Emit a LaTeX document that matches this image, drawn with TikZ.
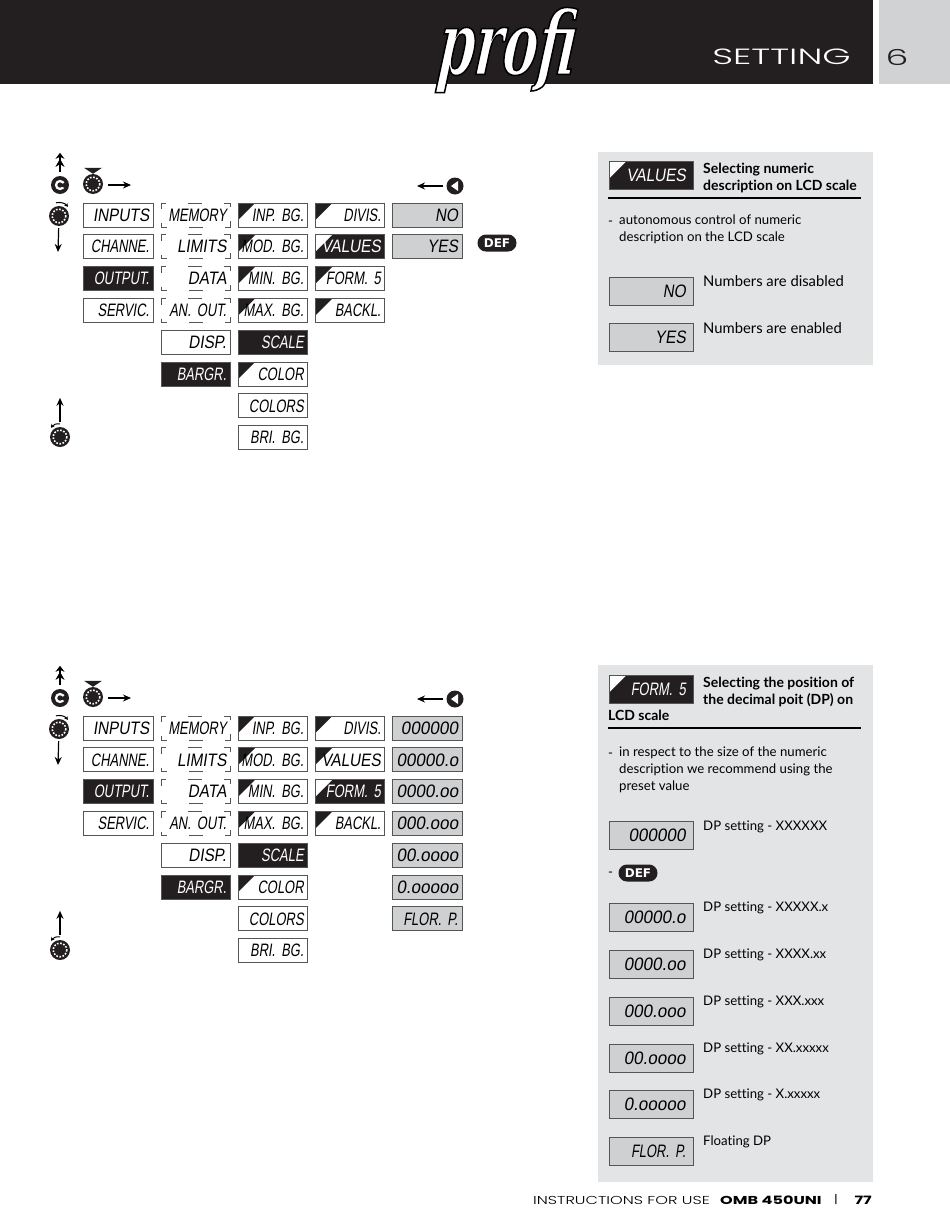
\documentclass[tikz,border=0pt]{standalone}
\usepackage{fontspec}
\usepackage{xcolor}
\usetikzlibrary{positioning,arrows.meta}
\setmainfont[Ligatures=NoCommon]{Lato}
\newfontfamily\lcdface[FakeSlant=0.15,FakeStretch=0.85]{Liberation Sans}
\newfontfamily\tightface[FakeSlant=0.15,FakeStretch=0.72,WordSpace=0.4]{Liberation Sans}
\newfontfamily\digface[FakeSlant=0.15,FakeStretch=0.95]{Liberation Sans}
\newfontfamily\headface[FakeStretch=1.65]{Poppins Light}
\newfontfamily\wideface[FakeStretch=1.4]{Poppins Light}
\newfontfamily\widebold[FakeStretch=1.4]{Poppins}
\newfontfamily\logoface[FakeStretch=0.6,FakeSlant=0.1]{DejaVu Serif}
\newfontfamily\pillface{DejaVu Sans}
\definecolor{bandblack}{HTML}{231F20}
\definecolor{tabgray}{HTML}{D1D2D4}
\definecolor{panelgray}{HTML}{E3E4E6}
\definecolor{lcdgray}{HTML}{CFD0D2}
\definecolor{edgegray}{HTML}{555555}
\newcommand{\tl}[1]{\llap{\tightface\fontsize{18}{18}\selectfont #1}}

% menu tree: prefix, y offset, style of VALUES, style of FORM
\newcommand{\menutree}[4]{
\begin{scope}[shift={(0,#2)}]
\node[lcd] (#1inputs) at (118.5,215) {INPUTS};
\node[lcd, below=of #1inputs] (#1channe) {\tl{CHANNE.}};
\node[lcdon, below=of #1channe] (#1output) {\tl{OUTPUT.}};
\node[lcd, below=of #1output] (#1servic) {\tl{SERVIC.}};
\node[lcdopen, right=of #1inputs] (#1memory) {\tl{MEMORY}};
\node[lcdopen, below=of #1memory] (#1limits) {LIMITS};
\node[lcdopen, below=of #1limits] (#1data) {DATA};
\node[lcdopen, below=of #1data] (#1anout) {\tl{AN. OUT.}};
\node[lcd, below=of #1anout] (#1disp) {DISP.};
\node[lcdon, below=of #1disp] (#1bargr) {\tl{BARGR.}};
\node[lcdtag, right=of #1memory] (#1inpbg) {\tl{INP. BG.}};
\node[lcdtag, below=of #1inpbg] (#1modbg) {\tl{MOD. BG.}};
\node[lcdtag, below=of #1modbg] (#1minbg) {\tl{MIN. BG.}};
\node[lcdtag, below=of #1minbg] (#1maxbg) {\tl{MAX. BG.}};
\node[lcdon, below=of #1maxbg] (#1scale) {\tl{SCALE}};
\node[lcdtag, below=of #1scale] (#1color) {\tl{COLOR}};
\node[lcd, below=of #1color] (#1colors) {\tl{COLORS}};
\node[lcd, below=of #1colors] (#1bribg) {\tl{BRI. BG.}};
\node[lcdtag, right=of #1inpbg] (#1divis) {\tl{DIVIS.}};
\node[#3, below=of #1divis] (#1values) {VALUES};
\node[#4, below=of #1values] (#1form) {\tl{FORM. 5}};
\node[lcdtag, below=of #1form] (#1backl) {\tl{BACKL.}};
% buttons
\node[cbutton] (#1esc) at (60,185) {};
\node[knob] (#1enter) at (93,184) {};
\node[knob] (#1down) at (59,216) {};
\node[knob] (#1up) at (60,437) {};
\node[lbutton] (#1left) at (455,186) {};
\coordinate[above=23pt of #1esc] (#1escend);
\coordinate (#1enterend) at (131,185);
\coordinate (#1downend) at (58,252);
\coordinate[above=29pt of #1up] (#1upend);
\coordinate (#1leftend) at (417,186);
\draw[arr, shorten <=4pt, -{Stealth[length=8pt,width=9pt]Stealth[length=6pt,width=9pt]}] (#1esc) -- (#1escend);
\draw[arr, shorten <=5pt] (#1enter.east |- #1enterend) -- (#1enterend);
\draw[arr, shorten <=2pt] (#1down) -- (#1downend);
\draw[arr, shorten <=5pt] (#1up) -- (#1upend);
\draw[arr, shorten <=3pt] (#1left) -- (#1leftend);
\fill[bandblack] ([shift={(-9,-6)}]#1enter.north) -- ++(18,0) -- ++(-9,6) -- cycle;
\draw[-{Stealth[length=3.5pt,width=4pt]}, line width=1pt] ([shift={(-3,-3)}]#1down.north) to[bend left=30] ([shift={(9,1)}]#1down.north);
\draw[-{Stealth[length=3.5pt,width=4pt]}, line width=1pt] ([shift={(0,-3)}]#1up.north) to[bend right=30] ([shift={(-9,1)}]#1up.north);
\end{scope}
}

\begin{document}
\begin{tikzpicture}[
  x=1pt, y=-1pt,
  node distance=7.8pt,
  lcd/.style={draw=edgegray, line width=.9pt, minimum width=69.4pt,
              minimum height=24pt, text width=61.5pt, inner xsep=3.5pt,
              inner ysep=0pt, outer sep=0pt, align=right,
              font=\lcdface\fontsize{18}{18}\selectfont},
  lcdon/.style={lcd, fill=bandblack, text=white},
  lcdopen/.style={lcd, dash pattern=on 6pt off 22pt on 14pt off 22pt on 11pt off 14pt on 11pt off 22pt on 14pt off 22pt on 11pt off 14pt on 5pt},
  lcdgrey/.style={lcd, fill=lcdgray},
  lcddigit/.style={lcdgrey, font=\digface\fontsize{18}{18}\selectfont},
  lcdtag/.style={lcd, path picture={\fill[bandblack]
     (path picture bounding box.north west) -- ++(17,0) -- ++(-17,17) -- cycle;}},
  lcdtagon/.style={lcdon, path picture={\fill[white]
     (path picture bounding box.north west) -- ++(17,0) -- ++(-17,17) -- cycle;}},
  sidesize/.style={minimum width=84pt, minimum height=28pt, text width=69.5pt, inner xsep=7pt},
  panel/.style={fill=panelgray, anchor=north west, inner sep=0pt, outer sep=0pt},
  sidetext/.style={anchor=north west, inner sep=0pt, align=left,
                   font=\fontsize{13.2}{17}\selectfont},
  sidebig/.style={sidetext, font=\fontsize{14.8}{17}\selectfont},
  sidehead/.style={sidetext, font=\bfseries\fontsize{14}{17}\selectfont},
  knob/.style={circle, fill=bandblack, minimum size=20pt, inner sep=0pt, path picture={
     \draw[white, line width=1.6pt, dash pattern=on 1.6pt off 1.6pt]
     (path picture bounding box.center) circle (6.8);}},
  cbutton/.style={circle, fill=bandblack, minimum size=18pt, inner sep=0pt, path picture={
     \draw[white, line width=2.2pt, dash pattern=on 20.1pt off 5pt, dash phase=22.6pt]
     (path picture bounding box.center) circle (4);}},
  lbutton/.style={circle, fill=bandblack, minimum size=17pt, inner sep=0pt, path picture={
     \fill[white] ([shift={(3,-5)}]path picture bounding box.center) -- ++(0,10) -- ++(-7,-5) -- cycle;}},
  defpill/.style={rounded corners=8.4pt, fill=bandblack, text=white, minimum width=39pt,
     minimum height=17pt, inner sep=0pt, font=\pillface\bfseries\fontsize{12}{12}\selectfont},
  arr/.style={-{Stealth[length=8pt,width=7pt]}, line width=1.2pt}
]
\useasboundingbox (0,0) rectangle (950,1231);
% page head
\node[panel, fill=bandblack, minimum width=873pt, minimum height=84pt] (band) at (0,0) {};
\node[panel, fill=tabgray, minimum width=71pt, minimum height=84pt] (tab) at (879,0) {};
\node[anchor=east, inner sep=0pt, text=white, font=\headface\fontsize{22}{22}\selectfont] (setting) at (851,57) {SETTING};
\node[inner sep=0pt, text=bandblack, font=\headface\fontsize{22}{22}\selectfont] (chapter) at (897,57) {6};
\node[inner sep=0pt, text=white, font=\logoface\bfseries\itshape\fontsize{88}{88}\selectfont] (logo) at (505,50)
  {\special{pdf:code 2 Tr 1.5 w 0 0 0 RG}profi\special{pdf:code 0 Tr 1 w}};

\menutree{a}{0}{lcdtagon}{lcdtag}
\menutree{b}{513}{lcdtag}{lcdtagon}

% upper column and panel
\node[lcdgrey, right=of adivis] (ano) {NO};
\node[lcdgrey, below=of ano] (ayes) {YES};
\node[defpill] (adef) at (497,243) {DEF};
\node[panel, minimum width=275pt, minimum height=213pt] (apanel) at (598,152) {};
\node[lcdtagon, sidesize] (ahead) at (651,175.5) {VALUES};
\node[sidehead] (atitle) at (703,163) {Selecting numeric\\description on LCD scale};
\coordinate (arulestart) at (608,198);
\coordinate (aruleend) at (861,198);
\draw[line width=1.2pt] (arulestart) -- (aruleend);
\node[sidetext] (adash) at (608,213) {\strut-};
\node[sidetext] (abody) at (619,215) {autonomous control of numeric\\description on the LCD scale};
\node[lcdgrey, sidesize] (ano2) at (651,291) {NO};
\node[lcdgrey, sidesize] (ayes2) at (651,337) {YES};
\node[sidebig] (anotext) at (703,275) {Numbers are disabled};
\node[sidebig] (ayestext) at (703,322) {Numbers are enabled};

% lower column and panel
\node[lcddigit, right=of bdivis] (bdp0) {000000};
\node[lcddigit, below=of bdp0] (bdp1) {00000.o};
\node[lcddigit, below=of bdp1] (bdp2) {0000.oo};
\node[lcddigit, below=of bdp2] (bdp3) {000.ooo};
\node[lcddigit, below=of bdp3] (bdp4) {00.oooo};
\node[lcddigit, below=of bdp4] (bdp5) {0.ooooo};
\node[lcdgrey, below=of bdp5] (bdp6) {\tl{FLOR. P.}};
\node[panel, minimum width=275pt, minimum height=517pt] (bpanel) at (598,665) {};
\node[lcdtagon, sidesize] (bhead) at (651,689.5) {\tl{FORM. 5}};
\node[sidehead] (btitle) at (703,677) {Selecting the position of\\the decimal poit (DP) on};
\node[sidehead] (btitle2) at (608,710) {LCD scale};
\coordinate (brulestart) at (608,728);
\coordinate (bruleend) at (861,728);
\draw[line width=1.2pt] (brulestart) -- (bruleend);
\node[sidetext] (bdash) at (608,745) {\strut-};
\node[sidetext] (bbody) at (619,747) {in respect to the size of the numeric\\description we recommend using the\\preset value};
\node[lcddigit, sidesize] (bs0) at (651,835.5) {000000};
\node[sidetext] (bdash2) at (608,864) {\strut-};
\node[defpill] (bdef) at (638,873) {DEF};
\node[lcddigit, sidesize] (bs1) at (651,917) {00000.o};
\node[lcddigit, sidesize] (bs2) at (651,964) {0000.oo};
\node[lcddigit, sidesize] (bs3) at (651,1011) {000.ooo};
\node[lcddigit, sidesize] (bs4) at (651,1058) {00.oooo};
\node[lcddigit, sidesize] (bs5) at (651,1104) {0.ooooo};
\node[lcdgrey, sidesize] (bs6) at (651,1151) {\tl{FLOR. P.}};
\node[sidetext] (bt0) at (703,821) {DP setting - XXXXXX};
\node[sidetext] (bt1) at (703,902) {DP setting - XXXXX.x};
\node[sidetext] (bt2) at (703,949) {DP setting - XXXX.xx};
\node[sidetext] (bt3) at (703,996) {DP setting - XXX.xxx};
\node[sidetext] (bt4) at (703,1043) {DP setting - XX.xxxxx};
\node[sidetext] (bt5) at (703,1089) {DP setting - X.xxxxx};
\node[sidetext] (bt6) at (703,1136) {Floating DP};
% page foot
\node[anchor=west, inner sep=0pt, font=\wideface\fontsize{11.5}{12}\selectfont] (foot) at (533,1200) {INSTRUCTIONS FOR USE};
\node[anchor=west, inner sep=0pt, font=\widebold\bfseries\fontsize{11.5}{12}\selectfont] (model) at (720,1200) {OMB 450UNI};
\node[inner sep=0pt, font=\wideface\fontsize{11.5}{12}\selectfont] (bar) at (836,1200) {|};
\node[anchor=east, inner sep=0pt, font=\widebold\bfseries\fontsize{11.5}{12}\selectfont] (page) at (872,1200) {77};
\end{tikzpicture}
\end{document}
